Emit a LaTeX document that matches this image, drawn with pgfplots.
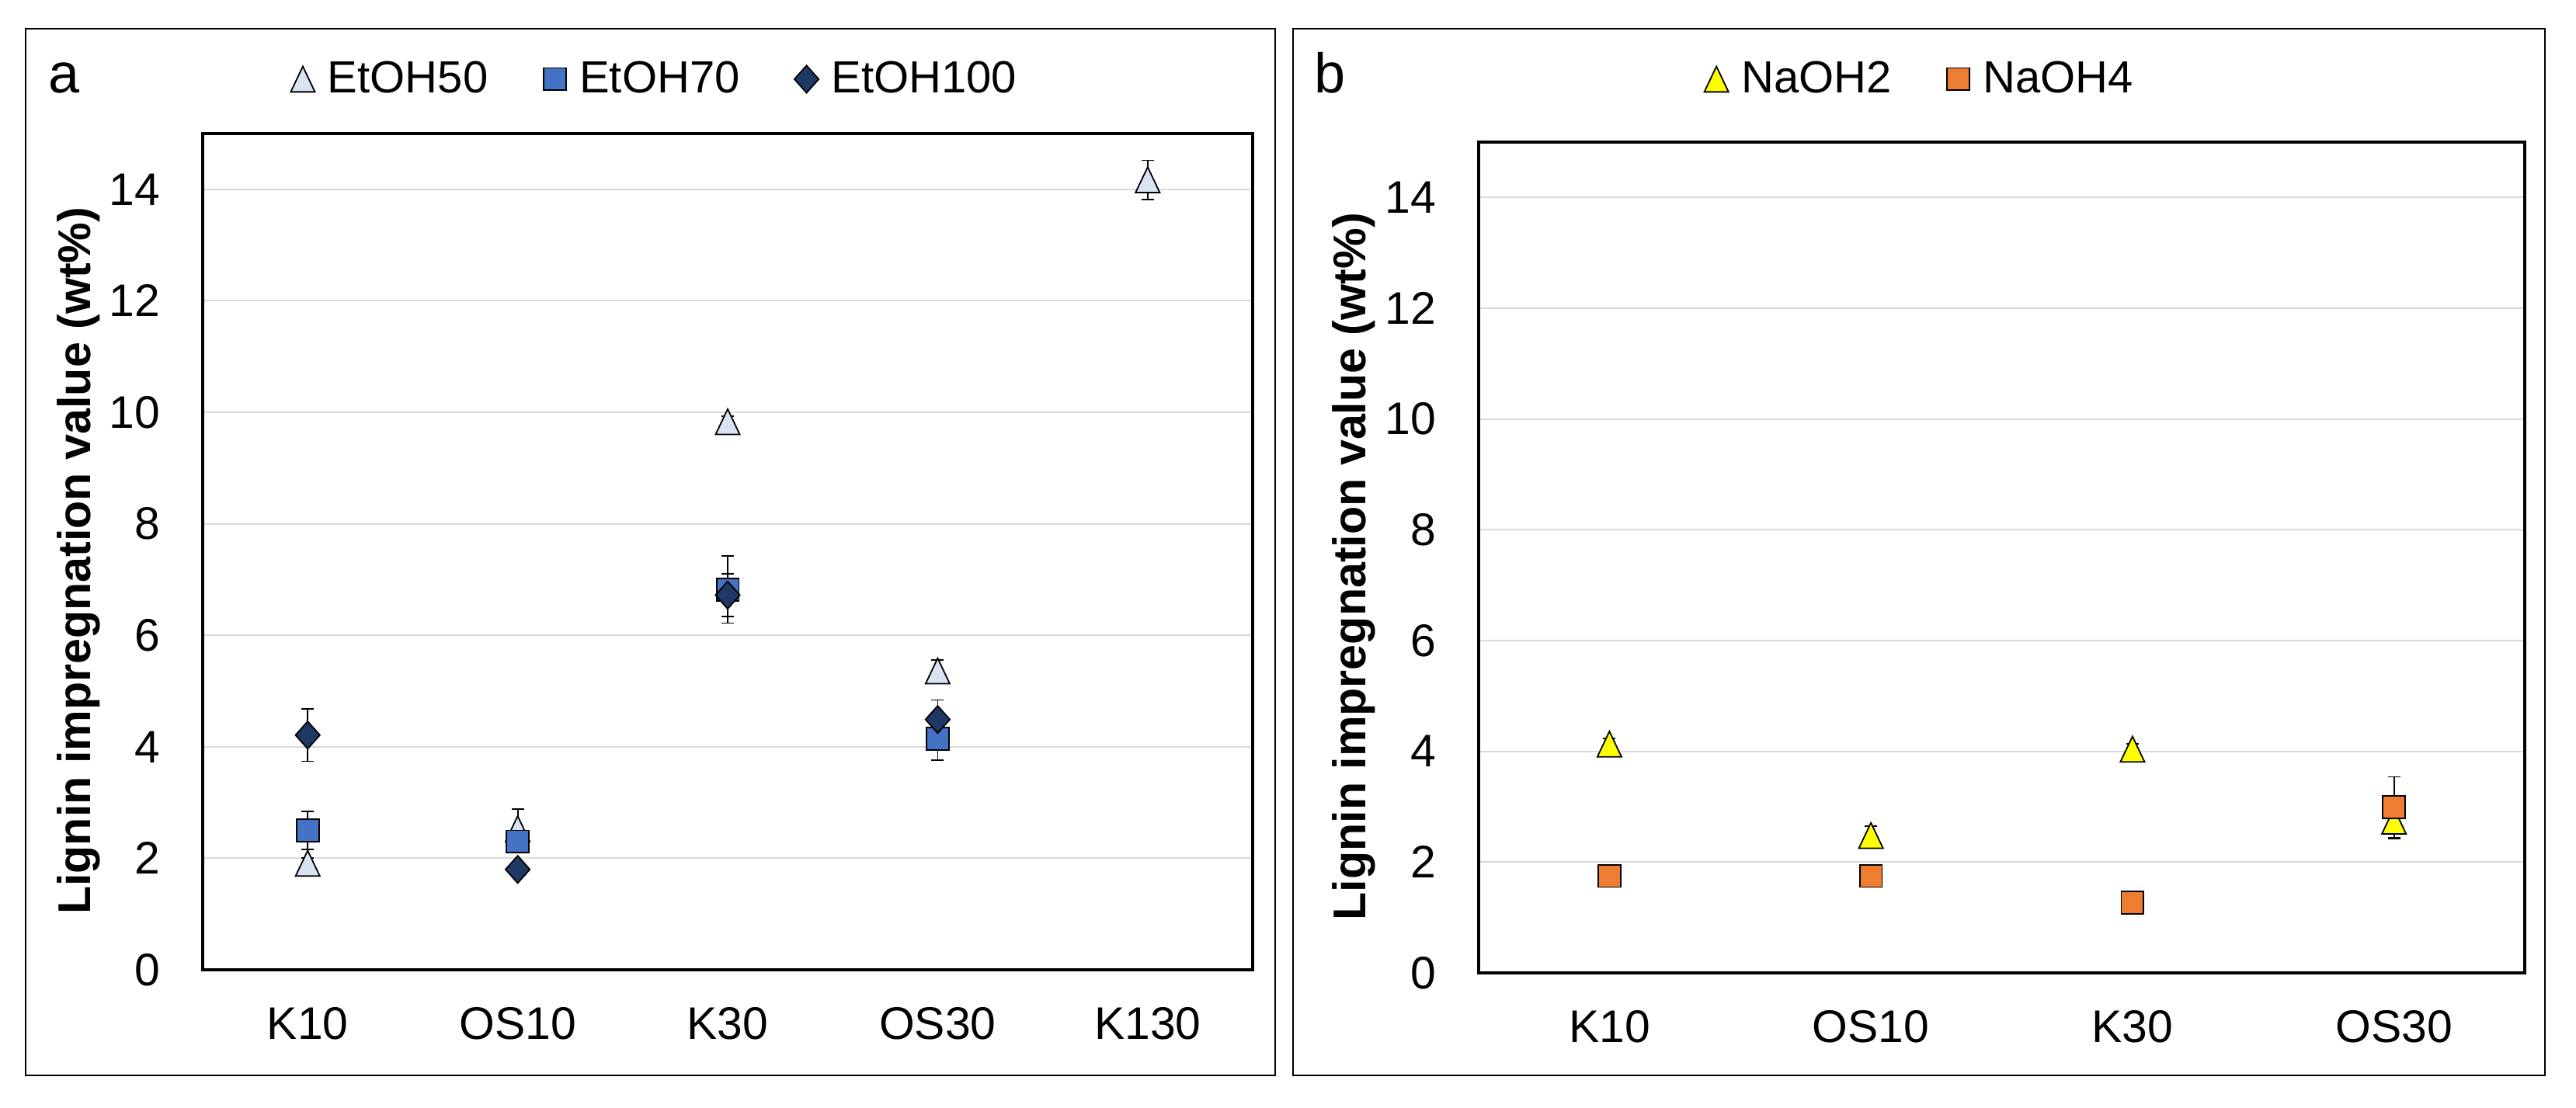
\documentclass[border=0pt]{standalone}
\usepackage{fontspec}
\setmainfont{Liberation Sans}
\usepackage{pgfplots}
\pgfplotsset{compat=1.18}
\definecolor{cfifty}{HTML}{DAE3F3}
\definecolor{cseventy}{HTML}{4472C4}
\definecolor{chundred}{HTML}{203864}
\definecolor{cyel}{HTML}{FFFF00}
\definecolor{corg}{HTML}{ED7D31}
\definecolor{gridc}{HTML}{D9D9D9}

\pgfdeclareplotmark{xtri}{%
  \pgfpathmoveto{\pgfqpoint{0pt}{\pgfplotmarksize}}%
  \pgfpathlineto{\pgfqpoint{0.95\pgfplotmarksize}{-\pgfplotmarksize}}%
  \pgfpathlineto{\pgfqpoint{-0.95\pgfplotmarksize}{-\pgfplotmarksize}}%
  \pgfpathclose
  \pgfusepathqfillstroke}
\pgfdeclareplotmark{xdia}{%
  \pgfpathmoveto{\pgfqpoint{0pt}{\pgfplotmarksize}}%
  \pgfpathlineto{\pgfqpoint{0.89\pgfplotmarksize}{0pt}}%
  \pgfpathlineto{\pgfqpoint{0pt}{-\pgfplotmarksize}}%
  \pgfpathlineto{\pgfqpoint{-0.89\pgfplotmarksize}{0pt}}%
  \pgfpathclose
  \pgfusepathqfillstroke}

\pgfplotsset{
  panel/.style={
    scale only axis,
    axis line style={line width=0.9bp},
    ymin=0, ymax=15, ytick={0,2,...,14},
    ymajorgrids, grid style={gridc, line width=0.5bp},
    major tick length=0pt,
    tick label style={font=\fontsize{14.7bp}{17bp}\selectfont},
    /pgf/number format/assume math mode=true,
    yticklabel style={inner sep=0pt, anchor=east, xshift=-13.5bp},
    xticklabel style={inner sep=0pt, anchor=north, yshift=-12bp},
    ylabel={Lignin impregnation value (wt\%)},
    ylabel style={font=\bfseries\fontsize{14.8bp}{17bp}\selectfont, anchor=base},
    legend columns=-1,
    legend image code/.code={\path[draw=none,fill=none] (0bp,-4.5bp) rectangle (12bp,4.5bp);
      \draw[#1] plot coordinates {(4bp,0bp)};},
    legend style={draw=none, fill=none, anchor=center, inner sep=0pt,
      font=\fontsize{14.5bp}{17bp}\selectfont,
      nodes={inner sep=0pt},
      /tikz/every even column/.append style={column sep=17.5bp}},
  },
  ebar/.style={error bars/.cd, y dir=both, y explicit,
    error bar style={line width=0.45bp, black},
    error mark options={rotate=90, mark size=2bp, line width=0.45bp, black}},
}

\begin{document}
\begin{tikzpicture}
\useasboundingbox (0,0) rectangle (829.25bp,356.75bp);
\draw[line width=0.5bp] (8.25bp,10.5bp) rectangle (410.5bp,347.5bp);
\draw[line width=0.5bp] (416.25bp,10.5bp) rectangle (819.25bp,347.5bp);
\node[anchor=base west, inner sep=0pt, font=\fontsize{18bp}{20bp}\selectfont] at (15.5bp,326.75bp) {a};
\node[anchor=base west, inner sep=0pt, font=\fontsize{18bp}{20bp}\selectfont] at (423bp,326.75bp) {b};

\begin{axis}[panel,
  at={(65.25bp,44.5bp)}, anchor=south west,
  width=338bp, height=269.25bp,
  xmin=-0.5, xmax=4.5,
  xtick={0,1,2,3,4}, xticklabels={K10,OS10,K30,OS30,K130},
  ylabel style={at={(axis description cs:-0.107,0.489)}},
  legend style={at={(axis description cs:0.4294,1.065)}},
]
\addplot[only marks, mark=xtri, mark size=4.1bp,
  mark options={fill=cfifty, draw=black, line width=0.45bp}, ebar]
  coordinates {(0,1.91) +- (0,0.1) (1,2.53) +- (0,0.35) (2,9.83) +- (0,0.1)
               (3,5.36) +- (0,0.2) (4,14.17) +- (0,0.35)};
\addlegendentry{EtOH50}
\addplot[only marks, mark=square*, mark size=3.6bp,
  mark options={fill=cseventy, draw=black, line width=0.45bp}, ebar]
  coordinates {(0,2.50) +- (0,0.34) (1,2.30) +- (0,0.1) (2,6.82) +- (0,0.6)
               (3,4.14) +- (0,0.38)};
\addlegendentry{EtOH70}
\addplot[only marks, mark=xdia, mark size=4.4bp,
  mark options={fill=chundred, draw=black, line width=0.45bp}, ebar]
  coordinates {(0,4.21) +- (0,0.47) (1,1.80) +- (0,0.1) (2,6.72) +- (0,0.38)
               (3,4.49) +- (0,0.35)};
\addlegendentry{EtOH100}
\end{axis}

\begin{axis}[panel,
  at={(476bp,43.5bp)}, anchor=south west,
  width=336.75bp, height=267.5bp,
  xmin=-0.5, xmax=3.5,
  xtick={0,1,2,3}, xticklabels={K10,OS10,K30,OS30},
  ylabel style={at={(axis description cs:-0.1084,0.489)}},
  legend style={at={(axis description cs:0.4206,1.0757)}},
]
\addplot[only marks, mark=xtri, mark size=4.1bp,
  mark options={fill=cyel, draw=black, line width=0.45bp}, ebar]
  coordinates {(0,4.13) +- (0,0.1) (1,2.48) +- (0,0.17) (2,4.04) +- (0,0.1)
               (3,2.74) +- (0,0.32)};
\addlegendentry{NaOH2}
\addplot[only marks, mark=square*, mark size=3.6bp,
  mark options={fill=corg, draw=black, line width=0.45bp}, ebar]
  coordinates {(0,1.75) +- (0,0.1) (1,1.75) +- (0,0.1) (2,1.27) +- (0,0.1)
               (3,2.99) +- (0,0.55)};
\addlegendentry{NaOH4}
\end{axis}
\end{tikzpicture}
\end{document}
